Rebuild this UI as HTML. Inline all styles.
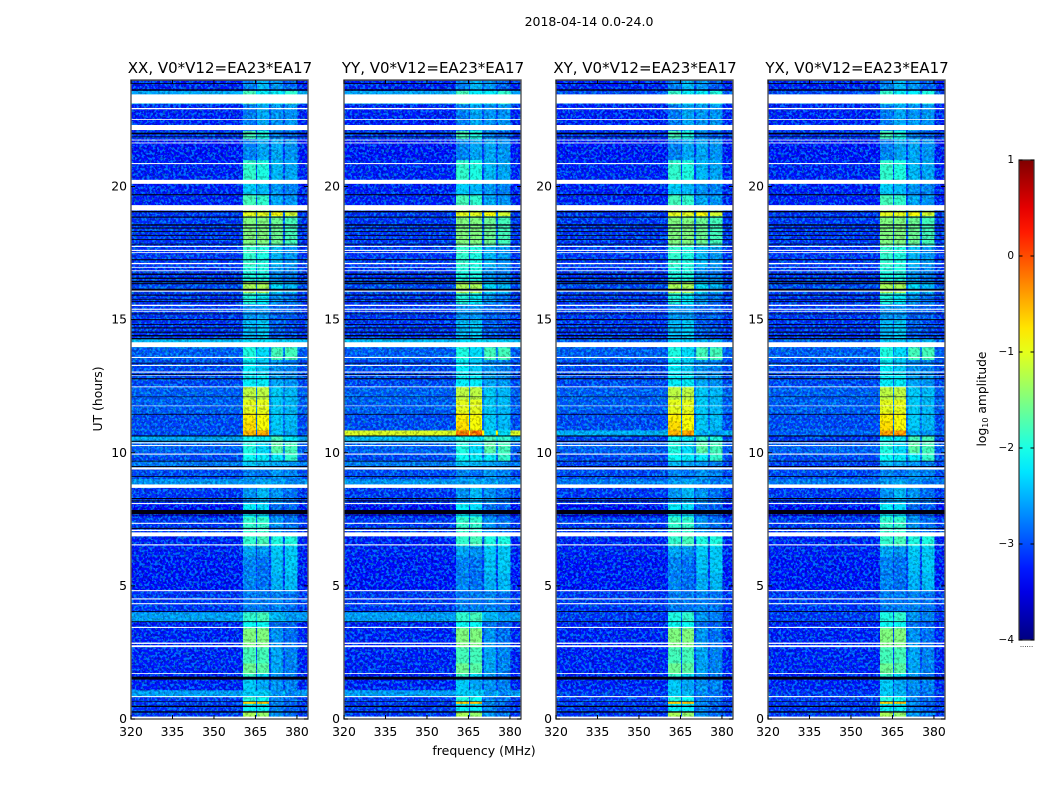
<!DOCTYPE html>
<html lang="en">
<head>
<meta charset="utf-8">
<title>2018-04-14 0.0-24.0</title>
<style>
html,body{margin:0;padding:0;background:#fff;}
svg{display:block;}
text{font-family:"DejaVu Sans","Liberation Sans",sans-serif;fill:#000;}
.speckle{mix-blend-mode:screen;}
.shade{mix-blend-mode:multiply;}
</style>
</head>
<body>
<svg id="figure" xmlns="http://www.w3.org/2000/svg" width="1050" height="800" viewBox="0 0 1050 800">
  <defs>
    <filter id="speckle-light" x="0" y="0" width="100%" height="100%" color-interpolation-filters="sRGB">
      <feTurbulence type="fractalNoise" baseFrequency="0.38" numOctaves="2" seed="7"/>
      <feColorMatrix type="matrix" values="0 0 0 0 0  0 0 0 0 0.42  0 0 0 0 0  9 0 0 0 -4.4"/>
    </filter>
    <filter id="speckle-dark" x="0" y="0" width="100%" height="100%" color-interpolation-filters="sRGB">
      <feTurbulence type="fractalNoise" baseFrequency="0.38" numOctaves="2" seed="23"/>
      <feColorMatrix type="matrix" values="0 0 0 0 0.78  0 0 0 0 0.78  0 0 0 0 0.78  9 0 0 0 -4.6"/>
    </filter>
    <linearGradient id="jet-gradient" x1="0" y1="1" x2="0" y2="0"></linearGradient>
  </defs>
  <rect width="1050" height="800" fill="#fff"/>
  <text x="589" y="26" font-size="12.5" text-anchor="middle">2018-04-14 0.0-24.0</text>
  <text x="484" y="755" font-size="12.5" text-anchor="middle">frequency (MHz)</text>
  <text transform="translate(102,399) rotate(-90)" font-size="12.4" text-anchor="middle">UT (hours)</text>
  <text transform="translate(986,399) rotate(-90)" font-size="12.3" text-anchor="middle">log<tspan font-size="8" dy="2">10</tspan><tspan dy="-2"> amplitude</tspan></text>
  <g id="panels"></g>
  <g id="colorbar"></g>
</svg>
<script>
// ---- Data ----
var panelTitles = ["XX, V0*V12=EA23*EA17", "YY, V0*V12=EA23*EA17", "XY, V0*V12=EA23*EA17", "YX, V0*V12=EA23*EA17"];
var xTicks = [320, 335, 350, 365, 380];
var yTicks = [0, 5, 10, 15, 20];
var colorbarTicks = [1, 0, -1, -2, -3, -4];

// Frequency bands (MHz): [start, end, column]; column indexes a row's values
var bg = 0, bandA = 1, bandB = 2, bandC = 3, bandD = 4, gap = 5;
var freqBands = [
  [320, 360.5, bg], [360.5, 365.2, bandA], [365.2, 365.6, gap], [365.6, 369.9, bandB],
  [369.9, 370.7, gap], [370.7, 374.9, bandC], [374.9, 375.7, gap], [375.7, 380.2, bandD], [380.2, 384, bg]
];

// Time rows: [start hour, end hour, background, band A, band B, band C, band D] in log10 amplitude
var xxRows = [
  [0,0.3,-3.2,-1.3,-1.4,-2.7,-2.9],[0.3,0.58,-3.2,-2.2,-2.2,-2.8,-3],[0.58,0.66,-3.2,-0.6,-0.5,-2.8,-3],
  [0.66,0.86,-3.2,-2,-2.1,-2.8,-2.9],[0.86,1.09,-2.65,-2.4,-2.4,-2.7,-2.8],[1.09,1.5,-3.3,-2.4,-2.6,-2.7,-2.8],
  [1.5,1.72,-3.3,-1.9,-2.3,-2.7,-2.9],[1.72,2.1,-3.3,-1.6,-1.7,-2.6,-2.8],[2.1,2.7,-3.3,-1.8,-1.8,-2.6,-2.8],
  [2.7,3.42,-3.3,-1.5,-1.5,-2.7,-2.9],[3.42,3.67,-3.3,-2.1,-2.1,-2.9,-3],[3.67,4.02,-2.65,-1.9,-1.8,-2.5,-2.7],
  [4.02,4.8,-3.2,-2.85,-2.85,-2.8,-2.9],[4.8,5.5,-3.35,-2.8,-2.9,-2.55,-2.5],[5.5,6.1,-3.35,-2.8,-2.9,-2.45,-2.4],
  [6.1,6.5,-3.3,-2.6,-2.7,-2.4,-2.4],[6.5,7,-3.3,-1.9,-1.8,-2,-2],[7,7.6,-3.2,-1.9,-1.9,-2.7,-2.9],
  [7.6,8.1,-3.4,-2.2,-2.3,-2.9,-3],[8.1,8.81,-3.2,-2.7,-2.5,-2.7,-2.9],[8.81,9.02,-2.7,-2.7,-2.6,-2.7,-2.8],
  [9.02,9.4,-3.1,-2.8,-2.9,-2.7,-2.8],[9.4,9.7,-2.85,-2.4,-2.5,-2.6,-2.7],[9.7,10,-3.1,-2.1,-2.2,-2.2,-1.9],
  [10,10.4,-3,-2,-2.3,-1.7,-1.8],[10.4,10.65,-2.6,-2.1,-2.2,-1.8,-2.2],[10.65,10.85,-3.1,-0.5,-0.4,-2.5,-2.6],
  [10.85,11.2,-3.1,-0.7,-0.9,-2.4,-2.5],[11.2,11.5,-3.1,-0.8,-0.9,-2.4,-2.5],[11.5,12,-3,-1,-1,-2.4,-2.5],
  [12,12.5,-3,-1.2,-1.2,-2.4,-2.5],
  [12.5,13,-3.1,-2.2,-2.2,-2.6,-2.7],[13,13.5,-3.1,-2.2,-2.4,-2.7,-2.8],[13.5,13.97,-3,-2,-2.3,-1.8,-1.8],
  [13.97,14.3,-2.5,-2.3,-2.3,-2.4,-2.4],[14.3,15,-3.2,-2.5,-2.4,-3,-3.1],[15,15.6,-3.2,-2.7,-2.7,-3,-3],
  [15.6,16,-3.2,-2,-2.2,-2.7,-2.9],[16,16.45,-3.1,-1.3,-1.3,-2.3,-2.5],[16.45,17,-3.2,-2,-2,-2.7,-2.8],
  [17,17.8,-3.2,-1.9,-2,-2.5,-2.7],[17.8,18.9,-3.2,-1.5,-1.5,-1.6,-1.8],[18.9,19.1,-3.2,-1,-1,-0.9,-1.1],
  [19.1,19.7,-3.3,-1.8,-1.9,-2.6,-2.7],[19.7,20.1,-3.3,-2.4,-2.5,-2.7,-2.8],[20.1,21,-3.3,-1.9,-2,-2.5,-2.6],
  [21,21.8,-3.35,-2.8,-2.6,-2.6,-2.7],[21.8,22.1,-3.2,-1.8,-2,-2.8,-3],[22.1,23.1,-3.3,-2.85,-2.6,-2.7,-2.7],
  [23.1,23.6,-2.6,-1.8,-2.2,-2.2,-1.9],[23.6,24,-3.3,-2.8,-2.5,-2.7,-3]
];

// Rows that differ per polarisation; each replaces the XX row with the same start hour
var xxOverrides = [];
var yyOverrides = [
  [10.65,10.85,-1.05,-0.15,-0.1,-2.3,-2.3],[10.4,10.65,-2.5,-2,-2.2,-1.8,-1.9]
];
var xyOverrides = [
  [0.86,1.09,-3.2,-2.4,-2.5,-2.8,-2.9],[3.67,4.02,-3.2,-2,-1.9,-2.7,-2.8],[8.81,9.02,-2.85,-2.7,-2.6,-2.8,-2.9],
  [9.4,9.7,-3.15,-2.5,-2.6,-2.7,-2.8],[10.4,10.65,-3.15,-2.1,-2.2,-1.9,-2],[10.65,10.85,-2.55,-0.45,-0.35,-2.6,-2.7],
  [13.97,14.3,-3,-2.4,-2.4,-2.5,-2.5],[23.1,23.6,-3.1,-1.9,-2.2,-2.2,-2]
];
var yxOverrides = [
  [0.86,1.09,-3.2,-2.4,-2.5,-2.8,-2.9],[3.67,4.02,-3.2,-2,-1.9,-2.7,-2.8],[8.81,9.02,-2.85,-2.7,-2.6,-2.8,-2.9],
  [9.4,9.7,-3.15,-2.5,-2.6,-2.7,-2.8],[10.4,10.65,-3.2,-2.1,-2.2,-1.8,-1.8],[10.65,10.85,-3.0,-0.35,-0.3,-2.6,-2.7],
  [13.97,14.3,-3,-2.4,-2.4,-2.5,-2.5],[23.1,23.6,-3.1,-1.9,-2.2,-2.2,-2]
];
var panelOverrides = [xxOverrides, yyOverrides, xyOverrides, yxOverrides];

// Flagged time spans (start hour, end hour)
var whiteRows = [
  [0,0.09],[0.82,0.86],[1.69,1.72],[2.7,2.77],[2.82,2.87],[3.42,3.46],[4.31,4.35],[4.49,4.53],[4.8,4.84],
  [6.52,6.56],[6.86,7.01],[7.06,7.11],[7.33,7.37],[8.07,8.11],[8.68,8.81],[9.37,9.45],[9.93,9.97],[10.25,10.29],
  [10.35,10.39],[11.75,11.77],[12.46,12.49],[12.89,12.91],[13.01,13.05],[13.26,13.3],[13.56,13.6],[13.97,14.15],
  [15.3,15.33],[15.37,15.41],[15.51,15.56],[16.05,16.09],[16.82,16.85],[16.95,16.98],[17.08,17.13],[17.5,17.53],
  [17.58,17.62],[17.73,17.77],[19.1,19.3],[20.1,20.25],[20.84,20.88],[21.62,21.65],[21.73,21.76],[22.12,22.31],
  [22.5,22.53],[22.9,22.95],[23.12,23.46]
];
var blackRows = [
  [0.24,0.29],[0.45,0.5],[0.65,0.67],[1.48,1.59],[3.64,3.67],[4.02,4.05],[7.14,7.18],[7.65,7.67],[7.7,7.85],
  [8.17,8.21],[8.26,8.3],[9.09,9.12],[9.46,9.5],[9.67,9.7],[10.41,10.45],[10.61,10.65],[11.43,11.46],[12.09,12.11],
  [12.76,12.8],[12.93,12.96],[13.35,13.38],[14.26,14.31],[14.37,14.42],[14.51,14.55],[14.67,14.71],[14.8,14.83],
  [14.98,15.02],[15.2,15.23],[15.66,15.69],[15.75,15.78],[15.9,15.94],[16.08,16.16],[16.33,16.37],[16.4,16.46],
  [16.53,16.58],[16.68,16.73],[17.23,17.27],[17.82,17.85],[17.99,18.02],[18.15,18.18],[18.29,18.32],[18.42,18.46],
  [18.53,18.58],[18.83,18.87],[19.03,19.08],[19.67,19.71],[21.85,21.88],[21.96,22.02],[23.6,23.65],[23.85,23.88],[23.97,24]
];

// ---- Layout ----
var SVG_NS = "http://www.w3.org/2000/svg";
var panelLeft = [131, 344, 556, 768];
var plotWidth = 177, plotTop = 80, plotBottom = 719;
var X_MIN = 320, X_MAX = 384, Y_MIN = 0, Y_MAX = 24;
var CB_X = 1019, CB_W = 15, CB_TOP = 160, CB_BOTTOM = 640, CB_MIN = -4, CB_MAX = 1;

function xScale(mhz, left) { return left + (mhz - X_MIN) / (X_MAX - X_MIN) * plotWidth; }
function yScale(hour) { return plotBottom - (hour - Y_MIN) / (Y_MAX - Y_MIN) * (plotBottom - plotTop); }
function cbScale(v) { return CB_BOTTOM - (v - CB_MIN) / (CB_MAX - CB_MIN) * (CB_BOTTOM - CB_TOP); }

function clamp01(v) { return Math.max(0, Math.min(1, v)); }
function jet(logAmp) {
  var v = clamp01((logAmp - CB_MIN) / (CB_MAX - CB_MIN));
  var r = clamp01(1.5 - Math.abs(4 * v - 3));
  var g = clamp01(1.5 - Math.abs(4 * v - 2));
  var b = clamp01(1.5 - Math.abs(4 * v - 1));
  return "rgb(" + Math.round(r * 255) + "," + Math.round(g * 255) + "," + Math.round(b * 255) + ")";
}
function make(tag, attrs, parent) {
  var el = document.createElementNS(SVG_NS, tag);
  for (var k in attrs) { el.setAttribute(k, attrs[k]); }
  parent.appendChild(el);
  return el;
}
function rowsForPanel(p) {
  return xxRows.map(function (row) {
    var hit = panelOverrides[p].filter(function (o) { return o[0] === row[0]; })[0];
    return hit || row;
  });
}

// ---- Panels ----
var panelsRoot = document.getElementById("panels");
panelTitles.forEach(function (title, p) {
  var left = panelLeft[p];
  var g = make("g", {}, panelsRoot);
  
  

  var clipId = "clip-" + p;
  var clip = make("clipPath", { id: clipId }, g);
  make("rect", { x: left, y: plotTop, width: plotWidth, height: plotBottom - plotTop }, clip);
  var plot = make("g", { "clip-path": "url(#" + clipId + ")", style: "isolation:isolate" }, g);
  
  

  rowsForPanel(p).forEach(function (row) {
    freqBands.forEach(function (band) {
      var value = band[2] === gap ? row[2] + 0.2 : row[2 + band[2]];
      var x0 = xScale(band[0], left), x1 = xScale(band[1], left);
      var y0 = yScale(row[1]), y1 = yScale(row[0]);
      var cell = make("rect", { x: x0, y: y0, width: x1 - x0 + 0.3, height: y1 - y0 + 0.3, fill: jet(value) }, plot);
      
      
    });
  });

  var tex1 = make("rect", { class: "speckle", x: left, y: plotTop, width: plotWidth, height: plotBottom - plotTop, filter: "url(#speckle-light)" }, plot);
  
  
  var tex2 = make("rect", { class: "shade", x: left, y: plotTop, width: plotWidth, height: plotBottom - plotTop, filter: "url(#speckle-dark)" }, plot);
  
  

  blackRows.forEach(function (span) {
    var r = make("rect", { x: left, y: yScale(span[1]), width: plotWidth, height: yScale(span[0]) - yScale(span[1]), fill: "#000010" }, plot);
    
    
  });
  whiteRows.forEach(function (span) {
    var r = make("rect", { x: left, y: yScale(span[1]), width: plotWidth, height: yScale(span[0]) - yScale(span[1]), fill: "#fff" }, plot);
    
    
  });

  var frame = make("rect", { x: left, y: plotTop, width: plotWidth, height: plotBottom - plotTop, fill: "none", stroke: "#555", "stroke-width": 1.4 }, g);
  
  

  var t = make("text", { x: left + plotWidth / 2 + 0.5, y: 73, "font-size": 15, "text-anchor": "middle" }, g);
  t.textContent = title;
  
  

  xTicks.forEach(function (tick) {
    var x = xScale(tick, left);
    var b = make("line", { x1: x, x2: x, y1: plotBottom, y2: plotBottom - 4, stroke: "#000" }, g);
    
    
    var u = make("line", { x1: x, x2: x, y1: plotTop, y2: plotTop + 4, stroke: "#000" }, g);
    
    
    var l = make("text", { x: x, y: 736, "font-size": 12.4, "text-anchor": "middle" }, g);
    l.textContent = tick;
    
    
  });
  yTicks.forEach(function (tick) {
    var y = yScale(tick);
    var a = make("line", { x1: left, x2: left + 4, y1: y, y2: y, stroke: "#000" }, g);
    
    
    var c = make("line", { x1: left + plotWidth, x2: left + plotWidth - 4, y1: y, y2: y, stroke: "#000" }, g);
    
    
    var l = make("text", { x: left - 4, y: y + 4, "font-size": 12.4, "text-anchor": "end" }, g);
    l.textContent = tick;
    
    
  });
});

// ---- Colorbar ----
var gradient = document.getElementById("jet-gradient");
for (var s = 0; s <= 20; s++) {
  var level = CB_MIN + (CB_MAX - CB_MIN) * s / 20;
  make("stop", { offset: (s * 5) + "%", "stop-color": jet(level) }, gradient);
}
var cbRoot = document.getElementById("colorbar");
var cbBar = make("rect", { x: CB_X, y: CB_TOP, width: CB_W, height: CB_BOTTOM - CB_TOP, fill: "url(#jet-gradient)", stroke: "#333", "stroke-width": 1.2 }, cbRoot);


colorbarTicks.forEach(function (tick) {
  var y = cbScale(tick);
  var lt = make("line", { x1: CB_X, x2: CB_X + 3.5, y1: y, y2: y, stroke: "#000" }, cbRoot);
  
  
  var rt = make("line", { x1: CB_X + CB_W, x2: CB_X + CB_W - 3.5, y1: y, y2: y, stroke: "#000" }, cbRoot);
  
  
  var lab = make("text", { x: CB_X - 5, y: y + 3, "font-size": 10.5, "text-anchor": "end" }, cbRoot);
  lab.textContent = tick < 0 ? "\u2212" + Math.abs(tick) : String(tick);
  
  
});
var cbDots = make("text", { x: CB_X + CB_W / 2, y: 647, "font-size": 7, "text-anchor": "middle", "fill": "#777" }, cbRoot);
cbDots.textContent = "......";


</script>
</body>
</html>
